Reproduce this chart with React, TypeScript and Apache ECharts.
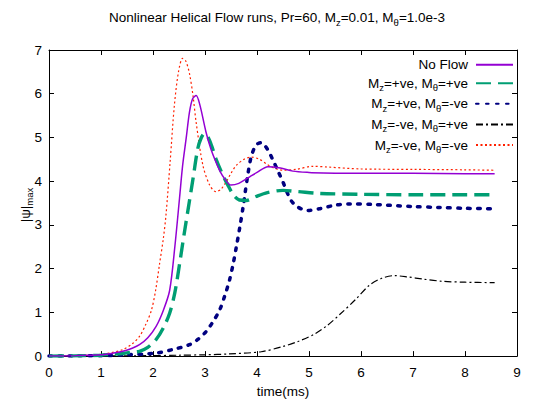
import React, { useEffect, useRef } from "react";
import * as echarts from "echarts";

const titleText = "Nonlinear Helical Flow runs, Pr=60, M{sub|z}=0.01, M{sub|θ}=1.0e-3";
const yName = "|ψ|{sub|max}";
const xName = "time(ms)";
const xTicks = [0, 1, 2, 3, 4, 5, 6, 7, 8, 9];
const yTicks = [0, 1, 2, 3, 4, 5, 6, 7];

const seriesNames = ["No Flow", "Mz=+ve, Mθ=+ve", "Mz=+ve, Mθ=-ve", "Mz=-ve, Mθ=+ve", "Mz=-ve, Mθ=-ve"];
const legendLabels = [
  "No Flow",
  "M{sub|z}=+ve, M{sub|θ}=+ve",
  "M{sub|z}=+ve, M{sub|θ}=-ve",
  "M{sub|z}=-ve, M{sub|θ}=+ve",
  "M{sub|z}=-ve, M{sub|θ}=-ve",
];

const noFlowT = [0, 0.5, 1.0, 1.2, 1.42, 1.6, 1.74, 1.9, 2.06, 2.2, 2.32, 2.42, 2.51, 2.57, 2.64, 2.70, 2.76, 2.83, 2.9, 3.02, 3.11, 3.21, 3.3, 3.375, 3.5, 3.65, 3.86, 4.0, 4.21, 4.45, 4.69, 5.0, 5.27, 6, 7, 8, 8.57];
const noFlowV = [0, 0.01, 0.03, 0.06, 0.11, 0.18, 0.26, 0.42, 0.68, 1.05, 1.5, 2.5, 3.61, 4.36, 5.0, 5.57, 5.88, 5.96, 5.75, 5.12, 4.75, 4.44, 4.2, 4.06, 3.91, 3.95, 4.10, 4.2, 4.33, 4.30, 4.23, 4.2, 4.19, 4.18, 4.18, 4.17, 4.17];

const ppT = [0, 0.5, 1.0, 1.2, 1.42, 1.6, 1.74, 1.9, 2.06, 2.2, 2.32, 2.42, 2.51, 2.6, 2.70, 2.77, 2.86, 2.93, 2.99, 3.06, 3.13, 3.21, 3.32, 3.44, 3.55, 3.66, 3.8, 3.98, 4.2, 4.5, 4.8, 5.2, 6, 7, 8, 8.57];
const ppV = [0, 0.005, 0.02, 0.04, 0.06, 0.09, 0.11, 0.2, 0.38, 0.65, 0.98, 1.45, 2.1, 2.8, 3.54, 4.06, 4.74, 5.0, 5.09, 5.0, 4.8, 4.51, 4.2, 3.91, 3.68, 3.57, 3.56, 3.65, 3.74, 3.79, 3.76, 3.72, 3.70, 3.69, 3.69, 3.69];

const pnT = [0, 0.5, 1, 1.5, 2.06, 2.38, 2.70, 2.86, 3.02, 3.15, 3.28, 3.38, 3.47, 3.54, 3.6, 3.67, 3.73, 3.77, 3.82, 3.88, 3.95, 4.02, 4.09, 4.16, 4.23, 4.3, 4.4, 4.5, 4.58, 4.66, 4.78, 4.97, 5.2, 5.5, 5.78, 6.2, 7, 7.5, 8, 8.57];
const pnV = [0, 0.005, 0.01, 0.03, 0.07, 0.15, 0.26, 0.38, 0.56, 0.78, 1.05, 1.38, 1.73, 2.1, 2.48, 2.95, 3.39, 3.72, 4.12, 4.52, 4.76, 4.86, 4.88, 4.8, 4.67, 4.5, 4.24, 3.98, 3.74, 3.55, 3.41, 3.33, 3.37, 3.45, 3.48, 3.47, 3.42, 3.4, 3.38, 3.37];

const npT = [0, 1, 2, 2.5, 3, 3.47, 4.08, 4.5, 4.8, 5.1, 5.35, 5.59, 5.9, 6.16, 6.4, 6.64, 6.9, 7.2, 7.57, 8, 8.57];
const npV = [0, 0.005, 0.01, 0.02, 0.03, 0.05, 0.1, 0.22, 0.34, 0.5, 0.7, 0.95, 1.3, 1.62, 1.78, 1.84, 1.81, 1.76, 1.71, 1.69, 1.68];

const nnT = [0, 0.5, 1.0, 1.2, 1.42, 1.6, 1.74, 1.86, 1.97, 2.05, 2.125, 2.2, 2.25, 2.33, 2.41, 2.49, 2.57, 2.63, 2.70, 2.77, 2.83, 2.96, 3.09, 3.21, 3.31, 3.41, 3.5, 3.6, 3.75, 3.89, 4.05, 4.2, 4.35, 4.5, 4.75, 5.07, 5.4, 6, 7, 8, 8.57];
const nnV = [0, 0.01, 0.04, 0.08, 0.15, 0.28, 0.45, 0.72, 1.05, 1.5, 2.1, 2.7, 3.23, 4.45, 5.72, 6.5, 6.81, 6.75, 6.47, 5.95, 5.34, 4.36, 3.91, 3.76, 3.82, 3.99, 4.18, 4.36, 4.5, 4.55, 4.5, 4.38, 4.29, 4.25, 4.27, 4.34, 4.32, 4.28, 4.27, 4.26, 4.25];

const FONT = "Liberation Sans, Arial, Helvetica, sans-serif";
const subStyle = { fontSize: 9.5, fontFamily: FONT, color: "#000", padding: [9, 0, 0, 0] };

function pairs(t: number[], v: number[]) {
  return t.map((x, i) => [x, v[i]]);
}

export default function App() {
  const ref = useRef<HTMLDivElement>(null);
  useEffect(() => {
    if (!ref.current) return;
    const chart = echarts.init(ref.current, undefined, { renderer: "svg" });
    const seriesData = [
      pairs(noFlowT, noFlowV),
      pairs(ppT, ppV),
      pairs(pnT, pnV),
      pairs(npT, npV),
      pairs(nnT, nnV),
    ];
    const styles = [
      { color: "#9400d3", width: 1.5, type: "solid" as any, cap: "butt" },
      { color: "#009e73", width: 3.4, type: [15, 7] as any, cap: "butt" },
      { color: "#000080", width: 3.5, type: [2.6, 7.4] as any, cap: "round" },
      { color: "#000000", width: 1.2, type: [7, 3, 2, 3] as any, cap: "butt" },
      { color: "#ff2000", width: 1.2, type: [2, 2.5] as any, cap: "butt" },
    ];
    const axisCommon = {
      type: "value" as const,
      axisLine: { show: true, onZero: false, lineStyle: { color: "#000", width: 1 } },
      axisTick: { show: true, inside: true, length: 5, lineStyle: { color: "#000" } },
      splitLine: { show: false },
    };
    const legendTops = [52.7, 50.5 + 20.65, 50.5 + 2 * 20.65, 50.5 + 3 * 20.65, 50.5 + 4 * 20.65];
    const legends = seriesNames.map((name, i) => ({
      data: [name],
      right: 14,
      top: legendTops[i],
      orient: "vertical" as const,
      align: "right" as const,
      itemWidth: 37,
      itemHeight: 14,
      padding: 5,
      selectedMode: false,
      itemStyle: { opacity: 0, color: "rgba(0,0,0,0)", borderWidth: 0 },
      formatter: () => legendLabels[i],
      textStyle: {
        fontSize: 13.5,
        fontFamily: FONT,
        color: "#000",
        padding: [0, 3, 0, 0],
        rich: { sub: subStyle },
      },
    }));
    chart.setOption({
      animation: false,
      backgroundColor: "#fff",
      title: {
        text: titleText,
        left: 104,
        top: 3,
        textStyle: {
          fontSize: 13.5,
          fontWeight: "normal",
          fontFamily: FONT,
          color: "#000",
          rich: { sub: subStyle },
        },
      },
      legend: legends,
      grid: { left: 49, right: 16, top: 50, bottom: 43, containLabel: false },
      graphic: [
        {
          type: "text",
          x: 25,
          y: 205,
          rotation: Math.PI / 2,
          style: {
            text: yName,
            fontSize: 13.5,
            fontFamily: FONT,
            fill: "#000",
            align: "center",
            verticalAlign: "middle",
            rich: { sub: { ...subStyle, fill: "#000" } },
          },
        },
      ],
      xAxis: [
        {
          ...axisCommon,
          min: 0,
          max: 9,
          interval: 1,
          position: "bottom",
          name: xName,
          nameLocation: "middle",
          nameGap: 25,
          nameTextStyle: { fontSize: 13.5, fontFamily: FONT, color: "#000" },
          axisLabel: {
            fontSize: 13.5,
            fontFamily: FONT,
            color: "#000",
            margin: 9,
            formatter: (v: number) => (xTicks.includes(v) ? String(v) : ""),
          },
        },
        {
          ...axisCommon,
          min: 0,
          max: 9,
          interval: 1,
          position: "top",
          axisLabel: { show: false },
        },
      ],
      yAxis: [
        {
          ...axisCommon,
          min: 0,
          max: 7,
          interval: 1,
          position: "left",
          axisLabel: {
            fontSize: 13.5,
            fontFamily: FONT,
            color: "#000",
            margin: 7,
            formatter: (v: number) => (yTicks.includes(v) ? String(v) : ""),
          },
        },
        {
          ...axisCommon,
          min: 0,
          max: 7,
          interval: 1,
          position: "right",
          axisLabel: { show: false },
        },
      ],
      series: seriesNames.map((name, i) => ({
        name,
        type: "line",
        data: seriesData[i],
        xAxisIndex: 0,
        yAxisIndex: 0,
        showSymbol: false,
        symbol: "none",
        smooth: 0.3,
        color: styles[i].color,
        lineStyle: { color: styles[i].color, width: styles[i].width, type: styles[i].type, cap: styles[i].cap },
        z: 10 - i,
      })),
    });
    return () => chart.dispose();
  }, []);
  return <div ref={ref} style={{ width: 533, height: 403, position: "absolute", left: 0, top: 0 }} />;
}
